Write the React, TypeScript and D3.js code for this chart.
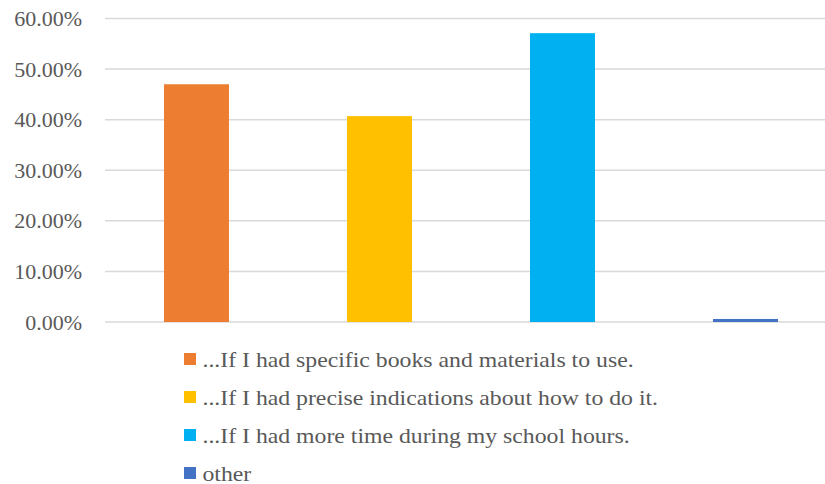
import React from "react";
import * as d3 from "d3";

const categories = [
  "...If I had specific books and materials to use.",
  "...If I had precise indications about how to do it.",
  "...If I had more time during my school hours.",
  "other",
];
const values = [0.47, 0.407, 0.571, 0.006];
const colors = ["#ED7D31", "#FFC000", "#00B0F0", "#4472C4"];
const yTicks = [0, 0.1, 0.2, 0.3, 0.4, 0.5, 0.6];

const W = 825;
const H = 484;
const SERIF = "Liberation Serif";

export default function App() {
  const x = d3
    .scaleBand<string>()
    .domain(categories)
    .range([105, 837])
    .paddingInner(0.645)
    .paddingOuter(0.3225);
  const y = d3.scaleLinear().domain([0, 0.6]).range([322, 18.5]);
  const fmt = (v: number) => (v * 100).toFixed(2) + "%";

  return (
    <svg
      width={W}
      height={H}
      style={{ position: "absolute", left: 0, top: 0, background: "#fff" }}
    >
      {yTicks.map((t) => (
        <line key={"g" + t} x1={105} x2={W} y1={y(t)} y2={y(t)} stroke="#d9d9d9" strokeWidth={1.5} />
      ))}
      {yTicks.map((t) => (
        <text
          key={"t" + t}
          x={82}
          y={y(t) + 7.5}
          textAnchor="end"
          fontSize={22}
          style={{ fontFamily: SERIF, fill: "#595959" }}
        >
          {fmt(t)}
        </text>
      ))}
      {categories.map((c, i) => (
        <rect
          key={c}
          x={x(c)}
          y={y(values[i])}
          width={x.bandwidth()}
          height={y(0) - y(values[i])}
          fill={colors[i]}
        />
      ))}
      {categories.map((c, i) => (
        <rect key={"s" + c} x={184} y={353 + i * 38} width={12} height={12} fill={colors[i]} />
      ))}
      {categories.map((c, i) => (
        <text
          key={"l" + c}
          transform={`translate(202.5, ${366.5 + i * 38}) scale(1.08, 1)`}
          fontSize={22}
          style={{ fontFamily: SERIF, fill: "#595959" }}
        >
          {c}
        </text>
      ))}
    </svg>
  );
}
